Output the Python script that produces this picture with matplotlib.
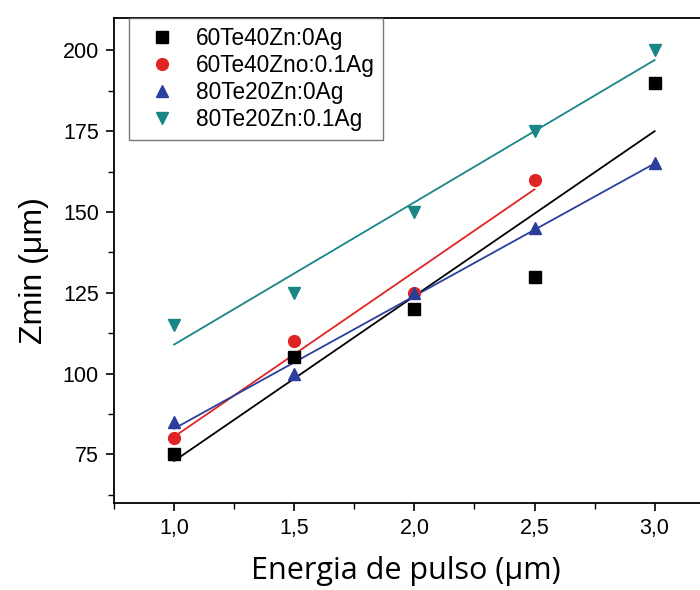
import numpy as np
import matplotlib
matplotlib.use("Agg")
import matplotlib.pyplot as plt
from matplotlib.ticker import MultipleLocator, FuncFormatter

energy = [1.0, 1.5, 2.0, 2.5, 3.0]
zmin_60Te40Zn_0Ag = [75, 105, 120, 130, 190]
energy_red = [1.0, 1.5, 2.0, 2.5]
zmin_60Te40Zn_01Ag = [80, 110, 125, 160]
zmin_80Te20Zn_0Ag = [85, 100, 125, 145, 165]
zmin_80Te20Zn_01Ag = [115, 125, 150, 175, 200]

labels = ["60Te40Zn:0Ag", "60Te40Zno:0.1Ag", "80Te20Zn:0Ag", "80Te20Zn:0.1Ag"]
colors = ["#000000", "#e02424", "#2c3e9b", "#1a8585"]
markers = ["s", "o", "^", "v"]
msizes = [8, 8.5, 9, 9]

plt.rcParams['font.family'] = ['Liberation Sans', 'DejaVu Sans']
fig = plt.figure(figsize=(7, 5.9), dpi=100)
ax = fig.add_axes([0.163, 0.1475, 0.858, 0.822])

series = [(energy, zmin_60Te40Zn_0Ag), (energy_red, zmin_60Te40Zn_01Ag),
          (energy, zmin_80Te20Zn_0Ag), (energy, zmin_80Te20Zn_01Ag)]
for (x, y), lab, c, m, ms in zip(series, labels, colors, markers, msizes):
    x = np.array(x); y = np.array(y)
    ax.plot(x, y, linestyle='none', marker=m, color=c, markersize=ms, label=lab, zorder=3)
    p = np.polyfit(x, y, 1)
    ax.plot([x[0], x[-1]], np.polyval(p, [x[0], x[-1]]), color=c, lw=1.3, zorder=2)

ax.set_xlim(0.75, 3.25)
ax.set_ylim(60, 210)
ax.xaxis.set_major_locator(MultipleLocator(0.5))
ax.xaxis.set_minor_locator(MultipleLocator(0.25))
ax.yaxis.set_major_locator(MultipleLocator(25))
ax.yaxis.set_minor_locator(MultipleLocator(12.5))
ax.xaxis.set_major_formatter(FuncFormatter(lambda v, p: f"{v:.1f}".replace('.', ',')))
ax.tick_params(which='major', direction='out', length=6, width=1.2, labelsize=15.5, pad=5)
ax.tick_params(which='minor', direction='out', length=4, width=1.0)
for s in ax.spines.values():
    s.set_linewidth(1.3)

ax.set_xlabel("Energia de pulso (\u03bcm)", fontsize=22, family=['Open Sans', 'DejaVu Sans'], labelpad=12)
ax.xaxis.label.set_x(0.485)
ax.set_ylabel("Zmin (\u03bcm)", fontsize=23, labelpad=10)
ax.yaxis.label.set_y(0.48)

leg = ax.legend(loc='upper left', bbox_to_anchor=(0.024, 1.0), fontsize=16.3, frameon=True,
                fancybox=False, edgecolor='#555555', handletextpad=0.36, borderpad=0.4,
                labelspacing=0.17, handlelength=2.2, borderaxespad=0)
leg.get_frame().set_linewidth(1.0)

fig.savefig("out.png", dpi=100)
